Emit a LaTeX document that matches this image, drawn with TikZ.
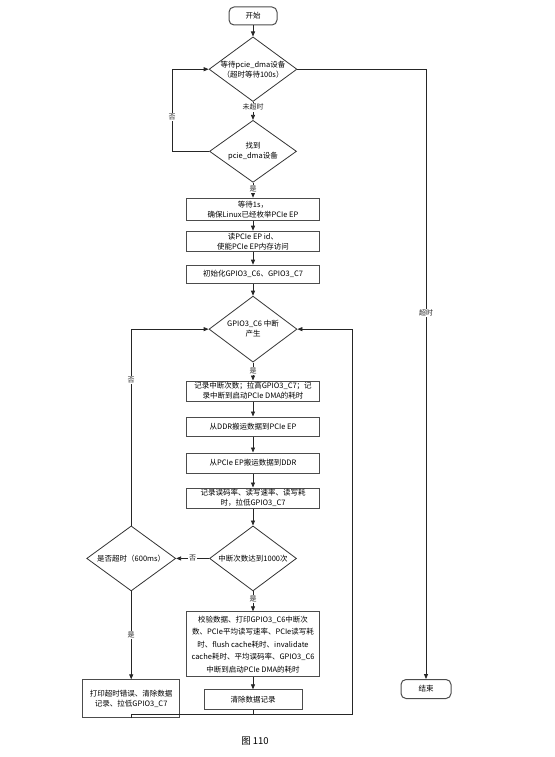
\documentclass[tikz,border=0pt]{standalone}
\usepackage{fontspec}
\setmainfont{Noto Sans CJK SC}
\usetikzlibrary{
  arrows.meta,
  positioning,
  shapes.geometric
}

\begin{document}
\begin{tikzpicture}[
  x=1pt, y=1pt,
  font=\fontsize{7.5}{10}\selectfont,
  proc/.style={draw=black!70, line width=1pt, minimum width=133pt,
               align=center, inner sep=1pt},
  term/.style={draw=black!70, line width=1pt, rounded corners=5pt,
               minimum width=48pt, minimum height=18pt, align=center},
  decision/.style={diamond, draw=black!80, line width=0.8pt, aspect=1.36,
                   minimum width=87pt, minimum height=64pt,
                   inner sep=0pt, align=center},
  arr/.style={-{Triangle[length=5pt,width=4pt]}, line width=0.8pt, black!85},
  line/.style={line width=0.8pt, black!85},
  lbl/.style={fill=white, inner sep=1pt, font=\fontsize{7}{8}\selectfont}
]
\useasboundingbox (0,0) rectangle (554,-757);

\node[term] (start) at (253,-16) {开始};
\node[decision, below=11pt of start] (wait) {等待pcie\_dma设备\\（超时等待100s）};
\node[decision, minimum height=62pt, below=18pt of wait] (found) {找到\\pcie\_dma设备};
\node[proc, minimum height=22pt, below=15pt of found] (ensure)
  {等待1s，\\确保Linux已经枚举PCIe EP};
\node[proc, minimum height=20pt, below=10pt of ensure] (readid)
  {读PCIe EP id、\\使能PCIe EP内存访问};
\node[proc, minimum height=18pt, below=13pt of readid] (initgpio)
  {初始化GPIO3\_C6、GPIO3\_C7};
\node[decision, minimum width=88pt, minimum height=66pt, below=12pt of initgpio] (irq)
  {GPIO3\_C6 中断\\产生};
\node[proc, minimum height=20pt, below=18pt of irq] (record)
  {记录中断次数；拉高GPIO3\_C7；记\\录中断到启动PCIe DMA的耗时};
\node[proc, minimum height=19pt, below=15pt of record] (ddrtoep)
  {从DDR搬运数据到PCIe EP};
\node[proc, minimum height=20pt, below=16pt of ddrtoep] (eptoddr)
  {从PCIe EP搬运数据到DDR};
\node[proc, minimum height=20pt, below=14pt of eptoddr] (stats)
  {记录误码率、读写速率、读写耗\\时，拉低GPIO3\_C7};
\node[decision, minimum height=65pt, below=17pt of stats] (count)
  {中断次数达到1000次};
\node[decision, minimum width=89pt, minimum height=65pt, left=33pt of count] (timeout)
  {是否超时（600ms）};
\node[proc, minimum height=65pt, below=20pt of count, font=\fontsize{7.5}{12.5}\selectfont] (report)
  {校验数据、打印GPIO3\_C6中断次\\数、PCIe平均读写速率、PCIe读写耗\\时、flush cache耗时、invalidate\\cache耗时、平均误码率、GPIO3\_C6\\中断到启动PCIe DMA的耗时};
\node[proc, minimum width=98pt, minimum height=20pt, below=12pt of report] (clear)
  {清除数据记录};
\node[proc, minimum width=97pt, minimum height=38pt, below=88pt of timeout] (abort)
  {打印超时错误、清除数据\\记录、拉低GPIO3\_C7};
\node[term, minimum width=50pt, minimum height=19pt] (finish) at (426,-689) {结束};
\coordinate (loopR) at (352,-714);

\draw[arr] (start) -- (wait);
\draw[arr] (wait) -- node[lbl, pos=0.3]{未超时} (found);
\draw[arr] (found.west) -- ++(-37pt,0) |- node[lbl, pos=0.21]{否} (wait.west);
\draw[arr] (found) -- node[lbl, pos=0.4]{是} (ensure);
\draw[arr] (ensure) -- (readid);
\draw[arr] (readid) -- (initgpio);
\draw[arr] (initgpio) -- (irq);
\draw[arr] (irq) -- node[lbl, pos=0.45]{是} (record);
\draw[arr] (record) -- (ddrtoep);
\draw[arr] (ddrtoep) -- (eptoddr);
\draw[arr] (eptoddr) -- (stats);
\draw[arr] (stats) -- (count);
\draw[arr] (count) -- node[lbl, midway]{否} (timeout);
\draw[arr] (count) -- node[lbl, pos=0.4]{是} (report);
\draw[arr] (report) -- (clear);
\draw[arr] (timeout.north) |- node[lbl, pos=0.37]{否} (irq.west);
\draw[arr] (timeout) -- node[lbl, pos=0.5]{是} (abort);
\draw[arr] (clear.south) |- (loopR) |- (irq.east);
\draw[line] (abort.south) |- (clear.south |- loopR);
\draw[arr] (wait.east) -| node[lbl, pos=0.7]{超时} (finish);

% caption
\node[font=\fontsize{9.5}{11}\selectfont] (caption) at (255,-741) {图 110};
\end{tikzpicture}
\end{document}
